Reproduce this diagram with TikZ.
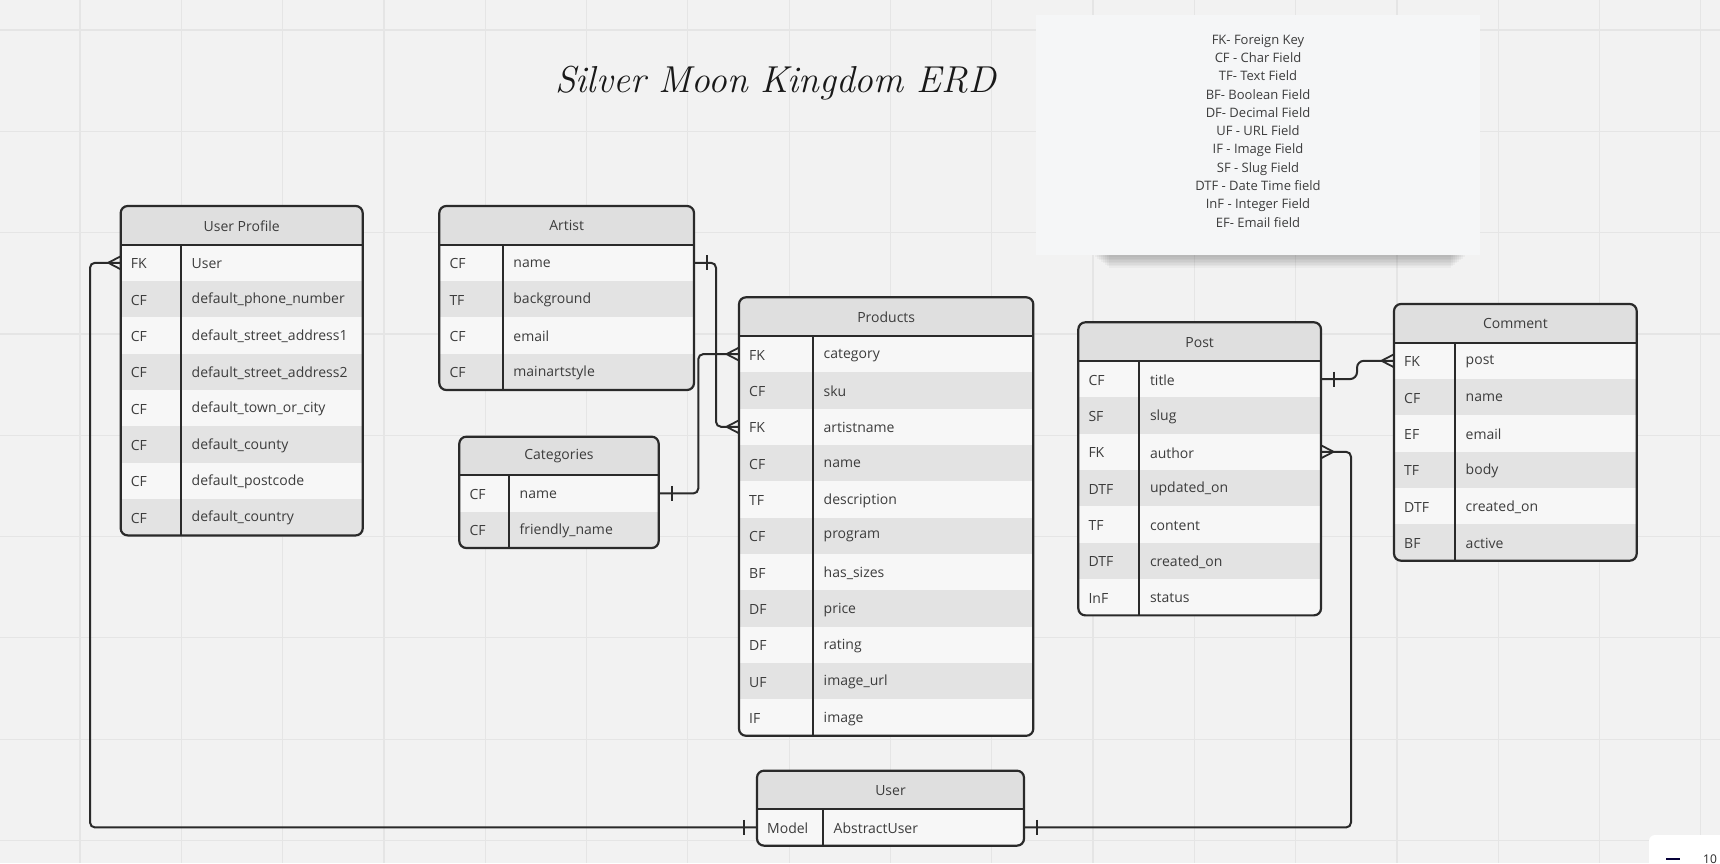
\documentclass[tikz,border=0pt]{standalone}
\usepackage{fontspec}
\newfontfamily\osans{Open Sans}
\usetikzlibrary{calc}
\definecolor{bgc}{HTML}{F2F2F2}
\definecolor{gridc}{HTML}{E5E5E5}
\definecolor{hdrfill}{HTML}{DFDFDF}
\definecolor{rowA}{HTML}{F7F7F7}
\definecolor{rowB}{HTML}{E3E3E3}
\definecolor{bordc}{HTML}{2A2A2A}
\definecolor{txt}{HTML}{3C3C3C}
\definecolor{notefill}{HTML}{F5F6F7}
\definecolor{navy}{HTML}{050038}
\tikzset{
  conn/.style={draw=bordc, line width=2pt, rounded corners=5pt},
  tipline/.style={draw=bordc, line width=1.8pt},
  tblline/.style={draw=bordc, line width=2pt},
  tblborder/.style={draw=bordc, line width=2.2pt, rounded corners=7pt, inner sep=0pt, outer sep=0pt},
  rowbox/.style={minimum height=36.35pt, inner sep=0pt, outer sep=0pt, anchor=north west},
  celltext/.style={anchor=west, inner sep=0pt, text=txt, font=\osans\fontsize{14}{16}\selectfont},
  headtext/.style={inner sep=0pt, text=txt, font=\osans\fontsize{14}{16}\selectfont},
  legendtext/.style={inner sep=0pt, text=txt, align=center, font=\osans\fontsize{13}{18.27}\selectfont},
}
% #1 name, #2 left, #3 top, #4 width, #5 divider offset, #6 title, #7 rows, #8 number of rows
\newcommand\erd[8]{%
  \pgfmathsetmacro\erdH{38.6+#8*36.35}%
  \begin{scope}
    \clip[rounded corners=7pt] (#2,#3) rectangle ++(#4,\erdH);
    \fill[hdrfill] (#2,#3) rectangle ++(#4,38.6);
    \foreach \ka/\fa [count=\ii] in {#7} {
      \pgfmathsetmacro\yt{#3+38.6+(\ii-1)*36.35}
      \ifodd\ii\relax
        \fill[rowA] (#2,\yt) rectangle ++(#4,36.35);
      \else
        \fill[rowB] (#2,\yt) rectangle ++(#4,36.35);
      \fi
      \node[rowbox, minimum width=#4pt] (#1-\ii) at (#2,\yt) {};
      \node[celltext] (#1-\ii-k) at (#2+10,\yt+19.2) {\ka};
      \node[celltext] (#1-\ii-f) at (#2+#5+10.5,\yt+19.2) {\fa};
    }
  \end{scope}
  \node[headtext] (#1-h) at (#2+#4/2,#3+19.8) {#6};
  \draw[tblline] (#2,#3+38.6) -- ++(#4,0);
  \draw[tblline] (#2+#5,#3+38.6) -- ++(0,\erdH-38.6);
  \node[tblborder, minimum width=#4pt, minimum height=\erdH pt, anchor=north west] (#1) at (#2,#3) {};
}
% crow's foot at an edge point; #2 = +1 if the line leaves to the right, -1 to the left
\newcommand\manyfoot[2]{%
  \draw[tipline] ($(#1)+(#2*12.5,0)$) -- ($(#1)+(0,-6.5)$)
                 ($(#1)+(#2*12.5,0)$) -- ($(#1)+(0,6.5)$);
}
\newcommand\onebar[2]{%
  \draw[tipline] ($(#1)+(#2*13,-7.5)$) -- ($(#1)+(#2*13,7.5)$);
}
\begin{document}
\begin{tikzpicture}[x=1pt,y=-1pt]
\path[use as bounding box] (0,0) rectangle (1720,863);
\clip (0,0) rectangle (1720,863);
\fill[bgc] (0,0) rectangle (1720,863);
\foreach \i in {0,...,16} \draw[gridc, line width=1.2pt] (80+\i*101.3,0) -- (80+\i*101.3,863);
\foreach \j in {0,...,8} \draw[gridc, line width=1.2pt] (0,30+\j*101.3) -- (1720,30+\j*101.3);

% title
\node[inner sep=0pt, text=black!90] (title) at (775.5,83) {\fontsize{37.5}{44}\selectfont\itshape Silver Moon Kingdom ERD};

% legend note with shadow
\foreach \k in {0,...,7} \fill[black, opacity=0.03] (1095+\k*2,248) rectangle (1465-\k*2,257+\k*1.5);
\fill[notefill] (1036,15) rectangle (1480,255);
\node[legendtext] (legend) at (1258,131) {FK- Foreign Key\\CF - Char Field\\TF- Text Field\\BF- Boolean Field\\DF- Decimal Field\\UF - URL Field\\IF - Image Field\\SF - Slug Field\\DTF - Date Time field\\InF - Integer Field\\EF- Email field};

% tables
\erd{profile}{120.7}{206}{242}{60.3}{User Profile}{FK/User, CF/default\_phone\_number, CF/default\_street\_address1, CF/default\_street\_address2, CF/default\_town\_or\_city, CF/default\_county, CF/default\_postcode, CF/default\_country}{8}
\erd{artist}{439.3}{206}{254.7}{63.4}{Artist}{CF/name, TF/background, CF/email, CF/mainartstyle}{4}
\erd{categories}{459.3}{436.7}{199.4}{49.7}{Categories}{CF/name, CF/friendly\_name}{2}
\erd{products}{739}{297.3}{294.3}{74}{Products}{FK/category, CF/sku, FK/artistname, CF/name, TF/description, CF/program, BF/has\_sizes, DF/price, DF/rating, UF/image\_url, IF/image}{11}
\erd{post}{1078.3}{322.3}{242.7}{61}{Post}{CF/title, SF/slug, FK/author, DTF/updated\_on, TF/content, DTF/created\_on, InF/status}{7}
\erd{comment}{1394}{304}{242.7}{61}{Comment}{FK/post, CF/name, EF/email, TF/body, DTF/created\_on, BF/active}{6}
\erd{user}{757}{770.7}{267}{66}{User}{Model/AbstractUser}{1}

% connectors
\draw[conn] (profile-1.west) -- ++(-30.7,0) |- (user-1.west);
\manyfoot{profile-1.west}{-1}
\onebar{user-1.west}{-1}

\draw[conn] (artist-1.east) -- ++(22,0) |- (products-3.west);
\onebar{artist-1.east}{1}
\manyfoot{products-3.west}{-1}

\draw[conn] (categories-1.east) -- ++(39.6,0) |- (products-1.west);
\onebar{categories-1.east}{1}
\manyfoot{products-1.west}{-1}

\draw[conn, rounded corners=7pt] (post-1.east) -- ++(36,0) |- (comment-1.west);
\onebar{post-1.east}{1}
\manyfoot{comment-1.west}{-1}

\draw[conn] (post-3.east) -- ++(30,0) |- (user-1.east);
\manyfoot{post-3.east}{1}
\onebar{user-1.east}{1}

% zoom widget (cut off at the corner)
\fill[white, rounded corners=6pt] (1649,835) rectangle (1760,900);
\draw[navy, line width=2pt] (1666,859) -- (1680,859);
\node[anchor=west, inner sep=0pt, text=bordc, font=\osans\fontsize{12}{14}\selectfont] (zoomlbl) at (1703,859) {10};
\end{tikzpicture}
\end{document}
